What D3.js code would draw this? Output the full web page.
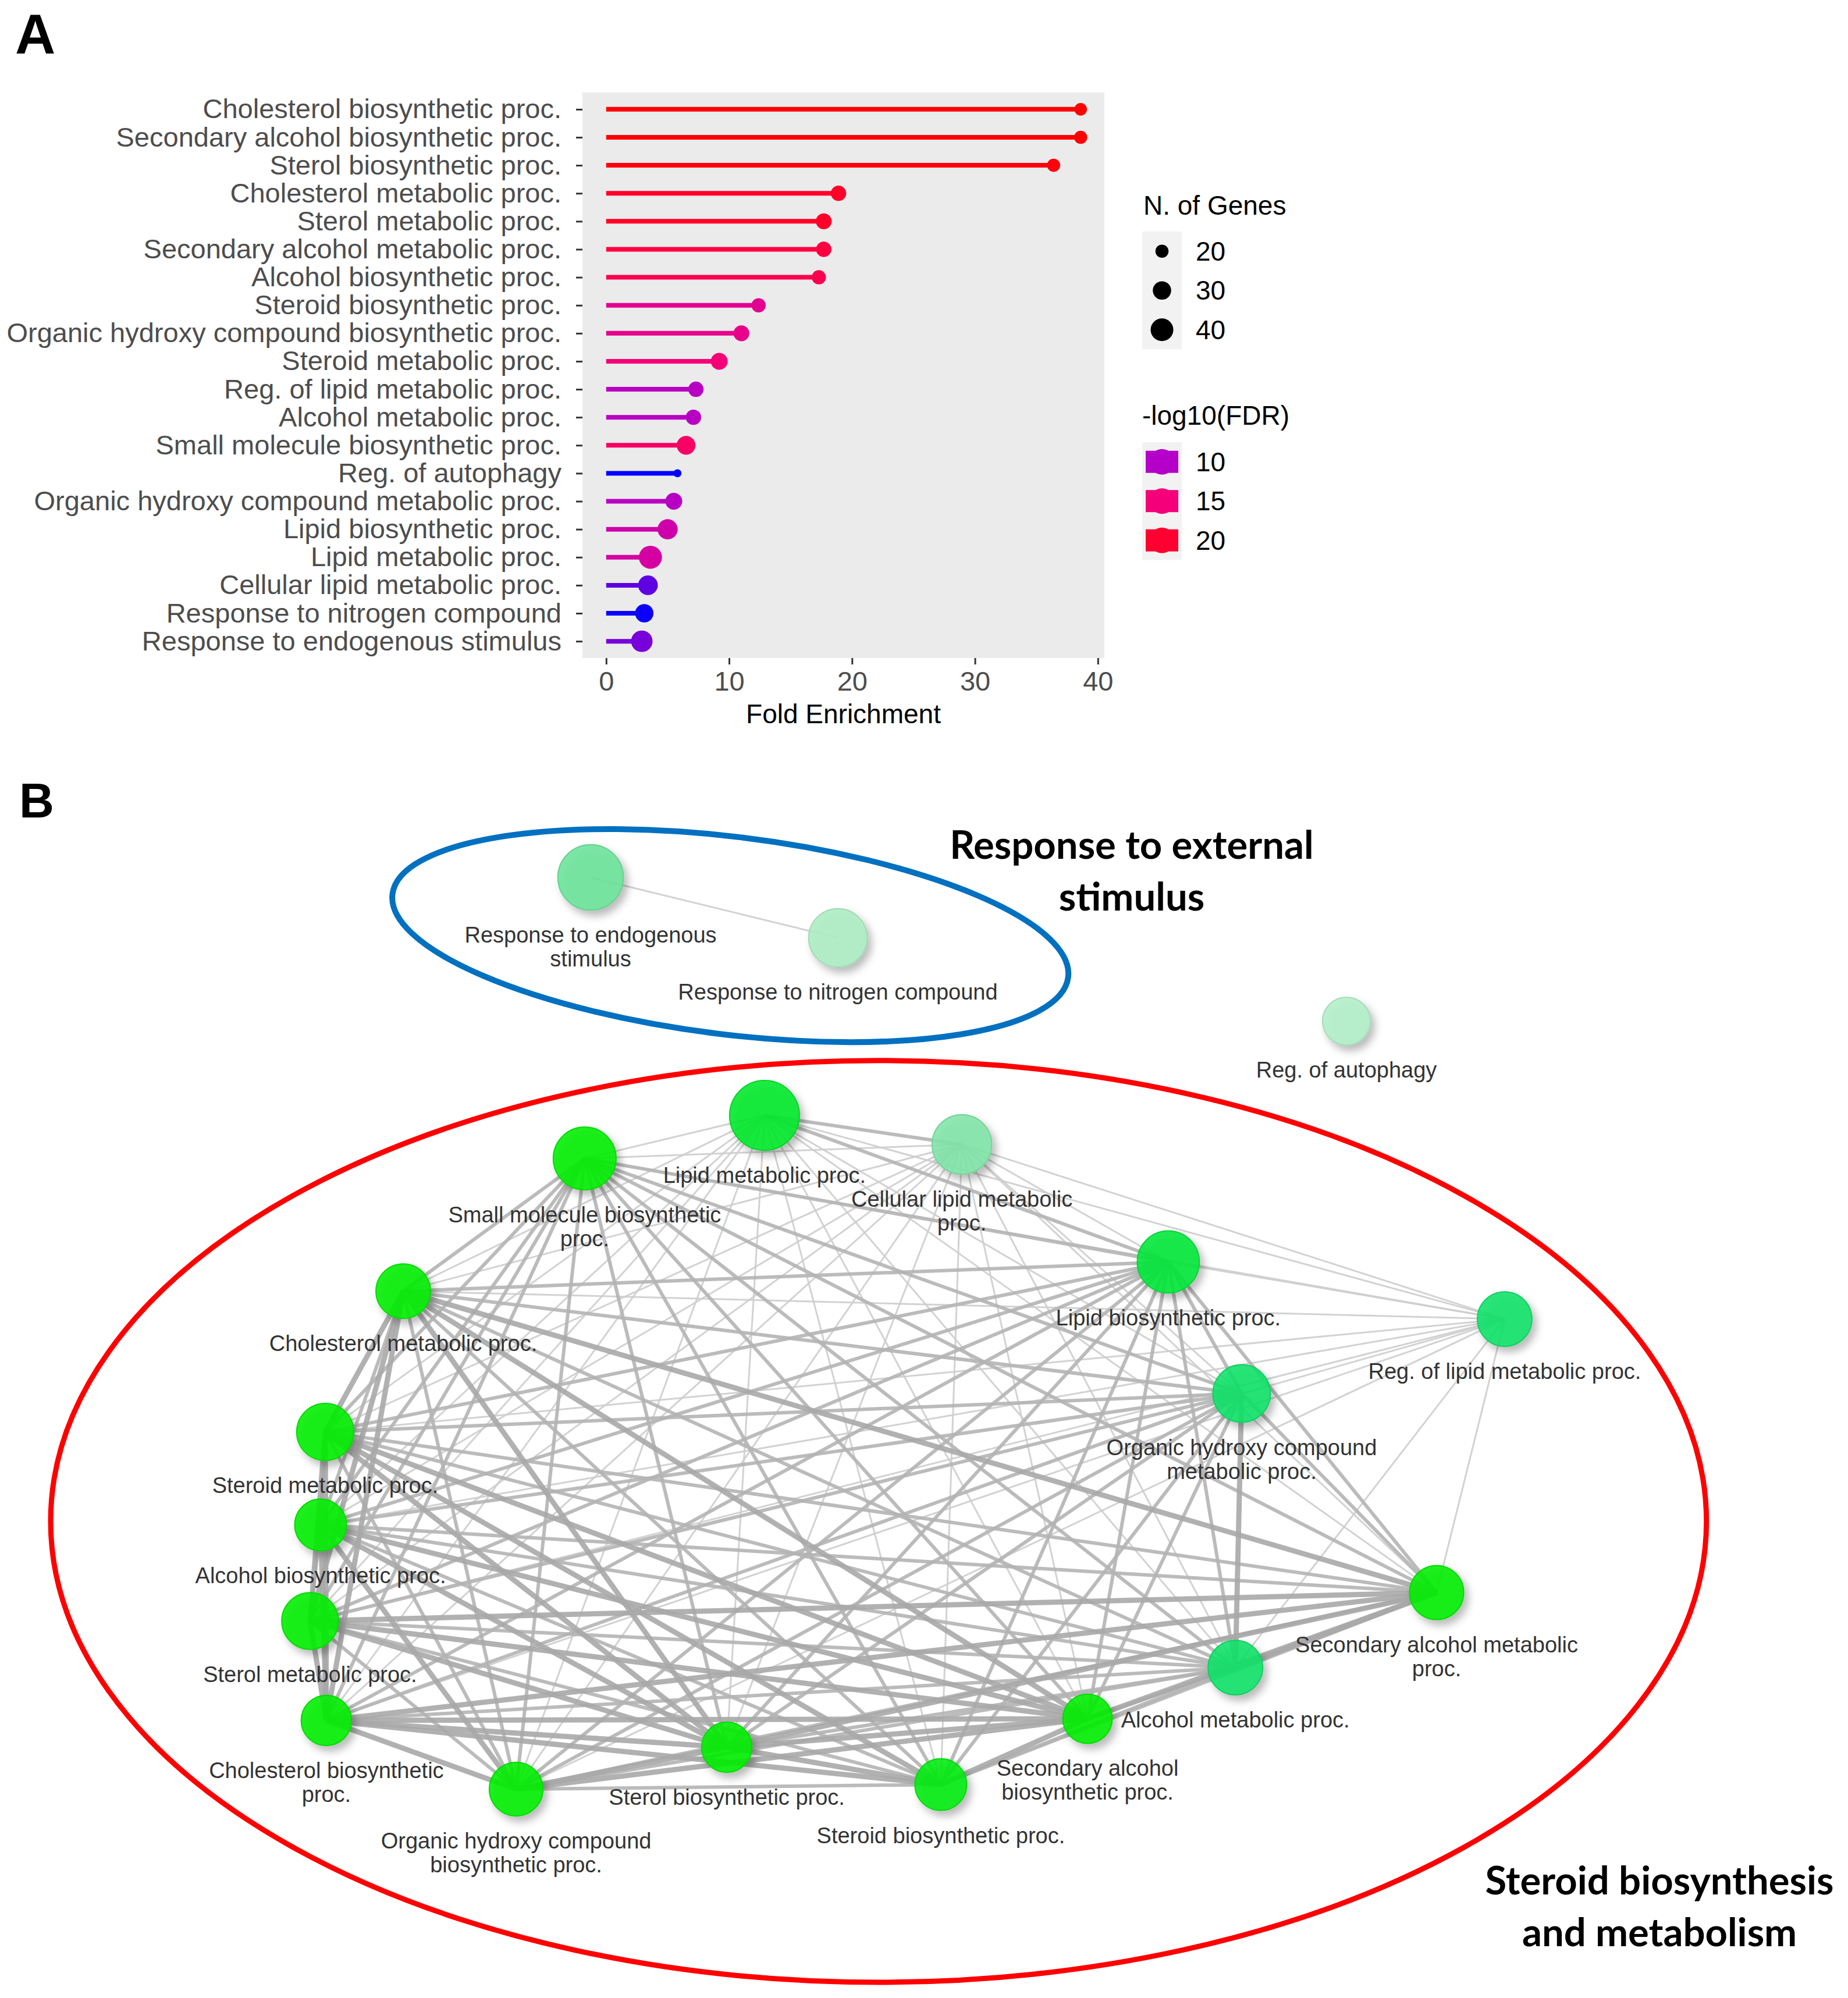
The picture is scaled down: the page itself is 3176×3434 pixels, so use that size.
<!DOCTYPE html>
<html>
<head>
<meta charset="utf-8">
<script src="https://cdn.jsdelivr.net/npm/d3@7"></script>
<style>
  body { margin: 0; background: #fff; }
  svg { display: block; }
</style>
</head>
<body>
<svg id="chart" width="3176" height="3434"></svg>
<script>
// ---- panel A data (top to bottom) ----
const terms = [
  'Cholesterol biosynthetic proc.',
  'Secondary alcohol biosynthetic proc.',
  'Sterol biosynthetic proc.',
  'Cholesterol metabolic proc.',
  'Sterol metabolic proc.',
  'Secondary alcohol metabolic proc.',
  'Alcohol biosynthetic proc.',
  'Steroid biosynthetic proc.',
  'Organic hydroxy compound biosynthetic proc.',
  'Steroid metabolic proc.',
  'Reg. of lipid metabolic proc.',
  'Alcohol metabolic proc.',
  'Small molecule biosynthetic proc.',
  'Reg. of autophagy',
  'Organic hydroxy compound metabolic proc.',
  'Lipid biosynthetic proc.',
  'Lipid metabolic proc.',
  'Cellular lipid metabolic proc.',
  'Response to nitrogen compound',
  'Response to endogenous stimulus',
];
const foldEnrichment = [38.6, 38.6, 36.4, 18.9, 17.7, 17.7, 17.3, 12.4, 11.0, 9.2,
  7.3, 7.1, 6.5, 5.8, 5.5, 5.0, 3.6, 3.4, 3.1, 2.9];
const nGenes = [19, 20, 20, 24, 25, 24, 22, 22, 25, 27, 24, 24, 31, 12, 27, 34, 41, 33, 30, 37];
const negLog10FDR = [22, 22, 21.5, 20.3, 20.3, 19, 18, 13.5, 14, 15.2,
  10.3, 10.3, 16.5, 5.0, 10.3, 12, 12.5, 7.6, 5.3, 8.3];
const xTicks = [0, 10, 20, 30, 40];
const sizeBreaks = [20, 30, 40];
const colorBreaks = [10, 15, 20];

// ---- panel B data (same order as terms) ----
const netLabels = [
  'Cholesterol biosynthetic\nproc.',
  'Secondary alcohol\nbiosynthetic proc.',
  'Sterol biosynthetic proc.',
  'Cholesterol metabolic proc.',
  'Sterol metabolic proc.',
  'Secondary alcohol metabolic\nproc.',
  'Alcohol biosynthetic proc.',
  'Steroid biosynthetic proc.',
  'Organic hydroxy compound\nbiosynthetic proc.',
  'Steroid metabolic proc.',
  'Reg. of lipid metabolic proc.',
  'Alcohol metabolic proc.',
  'Small molecule biosynthetic\nproc.',
  'Reg. of autophagy',
  'Organic hydroxy compound\nmetabolic proc.',
  'Lipid biosynthetic proc.',
  'Lipid metabolic proc.',
  'Cellular lipid metabolic\nproc.',
  'Response to nitrogen compound',
  'Response to endogenous\nstimulus',
];
// layout coordinates of the network (arbitrary units, equal aspect)
const netX = [17.66, 58.85, 39.33, 21.82, 16.78, 77.74, 17.35, 50.91, 27.93, 17.60,
  81.42, 66.85, 31.64, 72.86, 67.19, 63.22, 41.37, 52.05, 45.34, 31.96];
const netY = [52.17, 52.08, 53.62, 28.94, 46.79, 45.25, 41.59, 55.64, 55.89, 36.56,
  30.45, 49.31, 21.76, 14.33, 34.48, 27.36, 19.43, 21.00, 9.82, 6.55];
// relative gene-set size (largest = 100)
const netSize = [52, 50, 52, 61, 66, 60, 55, 55, 59, 67, 61, 61, 81, 47, 68, 79, 100, 73, 70, 88];
// gene overlap between terms: 0 none, 1 low, 2 medium, 3 high
const overlap = [
  '03333333331220221100',
  '30333333330220221100',
  '33033333330220221100',
  '33303322231220221100',
  '33330322231220221100',
  '33333022221320221100',
  '33322202321220221100',
  '33322220230220221100',
  '33322232021220221100',
  '33333223201220221100',
  '10011110110110111100',
  '22222322221020321100',
  '22222222221200221100',
  '00000000000000000000',
  '22222222221320021100',
  '22222222221220202100',
  '11111111111110120200',
  '11111111111110112000',
  '00000000000000000001',
  '00000000000000000010',
];
// cluster outlines (layout units)
const clusterTitles = [['Response to external', 'stimulus'], ['Steroid biosynthesis', 'and metabolism']];
const clusterCx = [39.52, 47.54];
const clusterCy = [9.70, 41.40];
const clusterRx = [18.42, 44.80];
const clusterRy = [5.35, 24.94];
const clusterTilt = [7, 0];
const clusterTitleX = [61.24, 89.80];
const clusterTitleY = [4.82, 60.86];

const svg = d3.select('#chart');
svg.append('rect').attr('width', 3176).attr('height', 3434).attr('fill', '#fff');

const defs = svg.append('defs');
defs.append('filter')
  .attr('id', 'shadow')
  .attr('x', '-60%').attr('y', '-60%').attr('width', '220%').attr('height', '220%')
  .append('feDropShadow')
  .attr('dx', 7).attr('dy', 9).attr('stdDeviation', 7)
  .attr('flood-color', '#000').attr('flood-opacity', 0.3);

const colorScale = d3.scaleLinear()
  .domain([5, 10, 15, 20, 22])
  .range(['#0000ff', '#b400c8', '#f5007a', '#ff0030', '#ff0000']);
const sizeScale = d3.scaleSqrt().domain([20, 40]).range([11.3, 19.5]);

// ================= PANEL A =================
const plotLeft = 1001, plotRight = 1898, plotTop = 159, plotBottom = 1131;
const maxFE = d3.max(foldEnrichment);
const pad = maxFE * 0.05;
const x = d3.scaleLinear().domain([-pad, maxFE + pad]).range([plotLeft, plotRight]);
const y = d3.scalePoint().domain(terms).range([plotTop, plotBottom]).padding(0.6);

svg.append('text')
  .attr('x', 26).attr('y', 92)
  .attr('font-family', '"Liberation Sans", Arial, sans-serif').attr('font-weight', 700)
  .attr('font-size', 96).text('A');

svg.append('rect')
  .attr('x', plotLeft).attr('y', plotTop)
  .attr('width', plotRight - plotLeft).attr('height', plotBottom - plotTop)
  .attr('fill', '#ebebeb');

const rows = terms.map((t, i) => ({
  term: t, fe: foldEnrichment[i], n: nGenes[i], fdr: negLog10FDR[i],
}));

const lolli = svg.append('g');
lolli.selectAll('line')
  .data(rows)
  .enter()
  .append('line')
  .attr('x1', x(0))
  .attr('x2', (d) => x(d.fe))
  .attr('y1', (d) => y(d.term))
  .attr('y2', (d) => y(d.term))
  .attr('stroke', (d) => colorScale(d.fdr))
  .attr('stroke-width', 8);
lolli.selectAll('circle')
  .data(rows)
  .enter()
  .append('circle')
  .attr('cx', (d) => x(d.fe))
  .attr('cy', (d) => y(d.term))
  .attr('r', (d) => sizeScale(d.n))
  .attr('fill', (d) => colorScale(d.fdr));

const xAxis = svg.append('g')
  .attr('transform', `translate(0,${plotBottom})`)
  .call(d3.axisBottom(x).tickValues(xTicks).tickSize(11).tickPadding(12));
const yAxis = svg.append('g')
  .attr('transform', `translate(${plotLeft},0)`)
  .call(d3.axisLeft(y).tickSize(11).tickPadding(25));
[xAxis, yAxis].forEach((ax) => {
  ax.select('.domain').remove();
  ax.selectAll('line').attr('stroke', '#333').attr('stroke-width', 3);
  ax.selectAll('text')
    .attr('font-family', '"Liberation Sans", Arial, sans-serif')
    .attr('font-size', 47)
    .attr('fill', '#4d4d4d');
});

svg.append('text')
  .attr('x', (plotLeft + plotRight) / 2).attr('y', 1243)
  .attr('text-anchor', 'middle')
  .attr('font-family', '"Liberation Sans", Arial, sans-serif')
  .attr('font-size', 46).attr('fill', '#000')
  .text('Fold Enrichment');

// legends
const legendFont = '"Liberation Sans", Arial, sans-serif';
const lgX = 1963, keyW = 68, keyH = 67.5;
svg.append('text')
  .attr('x', lgX + 2).attr('y', 369)
  .attr('font-family', legendFont).attr('font-size', 46)
  .text('N. of Genes');
const sizeLegend = svg.append('g').attr('transform', `translate(${lgX},398)`);
sizeLegend.append('rect').attr('width', keyW).attr('height', keyH * 3).attr('fill', '#f2f2f2');
sizeBreaks.forEach((v, i) => {
  sizeLegend.append('circle')
    .attr('cx', keyW / 2).attr('cy', keyH * (i + 0.5))
    .attr('r', sizeScale(v)).attr('fill', '#000');
  sizeLegend.append('text')
    .attr('x', keyW + 24).attr('y', keyH * (i + 0.5) + 16)
    .attr('font-family', legendFont).attr('font-size', 46)
    .text(v);
});

svg.append('text')
  .attr('x', lgX).attr('y', 730)
  .attr('font-family', legendFont).attr('font-size', 46)
  .text('-log10(FDR)');
const colorLegend = svg.append('g').attr('transform', `translate(${lgX},760)`);
colorLegend.append('rect').attr('width', keyW).attr('height', keyH * 3).attr('fill', '#f2f2f2');
colorBreaks.forEach((v, i) => {
  const cy = keyH * (i + 0.5);
  colorLegend.append('rect')
    .attr('x', 6).attr('y', cy - 19).attr('width', keyW - 12).attr('height', 38)
    .attr('fill', colorScale(v));
  colorLegend.append('circle')
    .attr('cx', keyW / 2).attr('cy', cy).attr('r', 22)
    .attr('fill', colorScale(v));
  colorLegend.append('text')
    .attr('x', keyW + 24).attr('y', cy + 16)
    .attr('font-family', legendFont).attr('font-size', 46)
    .text(v);
});

// ================= PANEL B =================
svg.append('text')
  .attr('x', 33).attr('y', 1405)
  .attr('font-family', '"Liberation Sans", Arial, sans-serif').attr('font-weight', 700)
  .attr('font-size', 83).text('B');

const nx = d3.scaleLinear().domain([0, 100]).range([0, 3176]);
const ny = d3.scaleLinear().domain([0, 100]).range([1300, 1300 + 3176]);
const unit = nx(1) - nx(0);
const rNet = d3.scaleSqrt().domain([0, 100]).range([0, 60]);
const greenScale = d3.scaleLinear()
  .domain([5, 8, 10.5, 14])
  .range(['#b2efc8', '#7ae4a2', '#00e264', '#00ef00'])
  .clamp(true);

const nodes = netLabels.map((label, i) => ({
  label, x: nx(netX[i]), y: ny(netY[i]), r: rNet(netSize[i]), fdr: negLog10FDR[i],
}));
const links = [];
overlap.forEach((row, i) => {
  for (let j = i + 1; j < row.length; j++) {
    const w = +row[j];
    if (w > 0) links.push({ source: nodes[i], target: nodes[j], w });
  }
});
links.sort((a, b) => a.w - b.w);

const edgeWidth = d3.scaleOrdinal().domain([1, 2, 3]).range([3, 6, 9]);
const edgeColor = d3.scaleOrdinal().domain([1, 2, 3]).range(['#cdcdcd', '#b4b4b4', '#a9a9a9']);

// cluster outlines
clusterTitles.forEach((lines, k) => {
  svg.append('ellipse')
    .attr('transform', `translate(${nx(clusterCx[k])},${ny(clusterCy[k])}) rotate(${clusterTilt[k]})`)
    .attr('rx', clusterRx[k] * unit)
    .attr('ry', clusterRy[k] * unit)
    .attr('fill', 'none')
    .attr('stroke', k === 0 ? '#0070c0' : '#ff0000')
    .attr('stroke-width', k === 0 ? 10 : 9);
  lines.forEach((line, li) => {
    svg.append('text')
      .attr('x', nx(clusterTitleX[k]))
      .attr('y', ny(clusterTitleY[k]) + 23 + li * 89)
      .attr('text-anchor', 'middle')
      .attr('font-family', 'Lato, sans-serif')
      .attr('font-weight', 700)
      .attr('font-size', 67)
      .attr('fill', '#000')
      .text(line);
  });
});

svg.append('g')
  .selectAll('line')
  .data(links)
  .enter()
  .append('line')
  .attr('x1', (d) => d.source.x)
  .attr('y1', (d) => d.source.y)
  .attr('x2', (d) => d.target.x)
  .attr('y2', (d) => d.target.y)
  .attr('stroke', (d) => edgeColor(d.w))
  .attr('stroke-opacity', 0.9)
  .attr('stroke-width', (d) => edgeWidth(d.w));

const node = svg.append('g')
  .selectAll('g')
  .data(nodes)
  .enter()
  .append('g')
  .attr('transform', (d) => `translate(${d.x},${d.y})`);

node.append('circle')
  .attr('r', (d) => d.r)
  .attr('fill', (d) => greenScale(d.fdr))
  .attr('fill-opacity', 0.88)
  .attr('stroke', (d) => d3.color(greenScale(d.fdr)).darker(0.25))
  .attr('stroke-width', 2)
  .attr('filter', 'url(#shadow)');

node.each(function (d) {
  const g = d3.select(this);
  d.label.split('\n').forEach((line, li) => {
    g.append('text')
      .attr('x', 0)
      .attr('y', d.r + 42 + 14 + li * 41)
      .attr('text-anchor', 'middle')
      .attr('font-family', '"Liberation Sans", Arial, sans-serif')
      .attr('font-size', 38)
      .attr('fill', '#333')
      .text(line);
  });
});
</script>
</body>
</html>
